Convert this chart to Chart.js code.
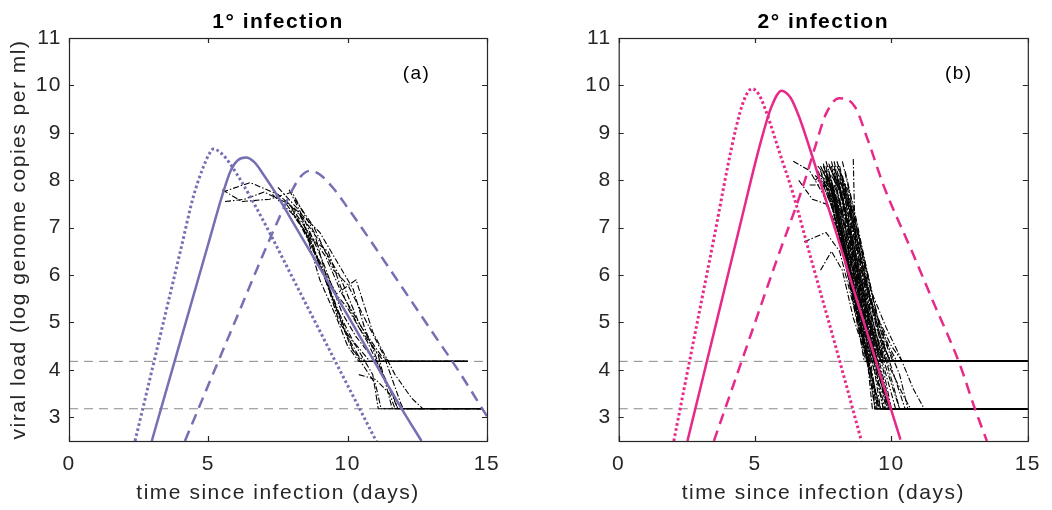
<!DOCTYPE html>
<html>
<head>
<meta charset="utf-8">
<script src="https://cdn.jsdelivr.net/npm/chart.js@4"></script>
<style>
  html, body { margin: 0; padding: 0; background: #fff; }
  #wrap { position: relative; width: 1052px; height: 510px; }
  canvas { position: absolute; top: 0; }
</style>
</head>
<body>
<div id="wrap">
  <canvas id="primary" width="526" height="510" style="left:0"></canvas>
  <canvas id="secondary" width="526" height="510" style="left:526px"></canvas>
</div>
<script>
// axes
const xTicks = [0, 5, 10, 15];
const yTicks = [3, 4, 5, 6, 7, 8, 9, 10, 11];
const detectHigh = 4.18;
const detectLow = 3.18;

// model curves, 1° infection (purple)
const pSolidX  = [2.97, 4.0, 5.0, 5.5, 5.8, 6.05, 6.35, 6.65, 7.0, 7.5, 8.0, 9.0, 10.0, 11.0, 12.0, 12.65];
const pSolidY  = [2.5, 4.61, 6.66, 7.68, 8.2, 8.42, 8.48, 8.38, 8.1, 7.65, 7.15, 6.15, 5.15, 4.13, 3.12, 2.5];
const pDotX    = [2.37, 3.0, 3.5, 4.0, 4.46, 4.82, 5.0, 5.18, 5.5, 5.8, 6.2, 6.6, 7.21, 8.0, 9.0, 10.0, 11.04];
const pDotY    = [2.5, 4.05, 5.28, 6.51, 7.65, 8.28, 8.52, 8.66, 8.55, 8.33, 7.96, 7.55, 6.88, 5.97, 4.82, 3.67, 2.48];
const pDashX   = [4.16, 5.0, 6.0, 7.0, 7.5, 8.0, 8.3, 8.65, 9.0, 9.5, 10.0, 11.0, 12.0, 13.0, 14.0, 15.0];
const pDashY   = [2.5, 3.68, 5.08, 6.48, 7.15, 7.78, 8.07, 8.2, 8.12, 7.82, 7.42, 6.57, 5.7, 4.83, 3.96, 3.02];

// model curves, 2° infection (pink)
const sSolidX  = [2.52, 3.0, 4.0, 4.5, 5.0, 5.3, 5.6, 5.97, 6.3, 6.6, 7.0, 7.5, 8.0, 8.6, 9.3, 10.0, 10.33];
const sSolidY  = [2.5, 3.63, 5.99, 7.17, 8.35, 9.0, 9.55, 9.89, 9.74, 9.36, 8.68, 7.76, 6.85, 5.72, 4.43, 3.14, 2.53];
const sDotX    = [2.02, 2.5, 3.0, 3.5, 4.0, 4.3, 4.6, 4.89, 5.15, 5.43, 5.9, 6.39, 7.0, 8.0, 8.9];
const sDotY    = [2.5, 3.9, 5.35, 6.8, 8.3, 9.1, 9.7, 9.93, 9.8, 9.41, 8.58, 7.72, 6.45, 4.4, 2.5];
const sDashX   = [3.49, 4.5, 5.79, 6.75, 7.2, 7.6, 8.08, 8.66, 9.14, 9.73, 10.75, 11.5, 12.49, 13.08, 13.5];
const sDashY   = [2.5, 4.17, 6.31, 7.86, 8.7, 9.4, 9.73, 9.55, 8.84, 7.86, 6.5, 5.48, 4.14, 3.15, 2.5];

// measured viral loads, one list per person: day, log load, day, log load, ...
const primaryCases = [
  [5.5,7.75, 6.5,7.95, 7.5,7.7, 8.3,7.3, 9.0,6.2, 9.6,5.3, 10.2,4.6, 10.8,4.18, 14.3,4.18],
  [5.6,7.55, 6.3,7.6, 7.0,7.75, 7.9,7.5, 8.6,6.9, 9.2,5.9, 9.9,4.8, 10.5,4.18, 14.3,4.18],
  [5.5,7.8, 6.2,7.55, 7.2,7.6, 8.0,7.75, 8.8,6.9, 9.4,5.6, 10.1,4.5, 11.0,3.7, 11.2,3.18, 14.8,3.18],
  [7.5,7.85, 8.2,7.4, 8.8,6.5, 9.5,5.5, 10.2,4.4, 10.6,4.18, 14.3,4.18],
  [7.9,7.8, 8.5,7.1, 9.1,6.3, 9.8,5.2, 10.3,4.7, 11.0,4.18, 14.3,4.18],
  [7.7,7.6, 8.4,7.2, 9.0,6.7, 9.7,6.0, 10.4,5.0, 11.1,4.3, 11.6,3.18, 14.8,3.18],
  [8.0,7.4, 8.7,6.6, 9.3,5.8, 10.0,5.3, 10.7,4.6, 11.5,3.6, 11.8,3.18, 14.8,3.18],
  [7.3,7.7, 8.0,7.3, 8.6,6.8, 9.3,6.5, 9.9,5.5, 10.4,4.9, 11.0,4.4, 11.3,4.18, 14.3,4.18],
  [8.2,7.2, 8.9,6.4, 9.6,5.6, 10.3,5.9, 10.9,4.8, 11.7,3.9, 12.3,3.4, 12.7,3.18, 14.8,3.18],
  [8.4,7.0, 9.1,6.1, 9.7,5.0, 10.3,4.5, 10.9,3.9, 11.1,3.18, 14.8,3.18],
  [8.6,6.9, 9.2,6.4, 9.8,5.6, 10.5,4.9, 11.2,4.3, 11.5,4.18, 14.3,4.18],
  [8.1,7.6, 8.8,7.0, 9.5,6.1, 10.0,5.8, 10.6,5.1, 11.3,4.3, 11.9,3.3, 12.0,3.18, 14.8,3.18],
  [7.8,7.5, 8.5,6.9, 9.0,5.9, 9.6,5.1, 10.0,4.5, 10.4,4.18, 14.3,4.18],
  [8.3,7.3, 9.0,6.9, 9.6,6.3, 10.2,5.7, 10.6,4.9, 11.2,4.0, 11.6,3.5, 11.8,3.18, 14.8,3.18],
  [10.4,3.9, 11.0,3.8, 11.5,3.5, 11.7,3.18]
];

const secondaryCases = [
  [7.3,8.3, 7.7,8.0, 8.1,7.0, 8.5,6.0, 8.9,5.0, 9.2,4.18, 15,4.18],
  [7.5,8.35, 7.9,7.6, 8.3,6.6, 8.7,5.5, 9.1,4.6, 9.4,3.9, 9.6,3.18, 15,3.18],
  [7.6,8.4, 8.0,7.6, 8.4,6.5, 8.8,5.4, 9.2,4.5, 9.35,4.18, 15,4.18],
  [7.7,8.2, 8.1,7.3, 8.5,6.3, 8.9,5.2, 9.3,4.3, 9.6,3.6, 9.75,3.18, 15,3.18],
  [7.4,8.1, 7.8,7.9, 8.2,6.9, 8.6,5.8, 9.0,4.8, 9.3,4.18, 15,4.18],
  [7.8,8.3, 8.2,7.2, 8.6,6.1, 9.0,5.0, 9.4,4.1, 9.8,3.4, 9.95,3.18, 15,3.18],
  [7.6,8.2, 8.0,7.5, 8.4,6.6, 8.8,5.6, 9.2,4.7, 9.5,4.18, 15,4.18],
  [7.9,8.4, 8.3,7.3, 8.7,6.2, 9.1,5.1, 9.5,4.1, 9.9,3.18, 15,3.18],
  [8.0,8.2, 8.4,7.5, 8.8,6.4, 9.2,5.3, 9.6,4.4, 9.75,4.18, 15,4.18],
  [7.2,8.0, 7.6,8.2, 8.0,7.4, 8.4,6.4, 8.8,5.3, 9.2,4.4, 9.5,3.7, 9.7,3.18, 15,3.18],
  [8.1,8.3, 8.5,7.2, 8.9,6.0, 9.3,4.9, 9.7,4.0, 10.0,3.18, 15,3.18],
  [7.5,8.0, 7.9,7.8, 8.3,7.0, 8.7,5.9, 9.1,4.9, 9.45,4.18, 15,4.18],
  [8.2,8.0, 8.6,7.0, 9.0,5.8, 9.4,4.8, 9.8,4.18, 15,4.18],
  [7.7,8.0, 8.1,7.1, 8.4,6.3, 8.7,5.5, 9.0,4.6, 9.2,3.9, 9.4,3.18, 15,3.18],
  [7.8,8.1, 8.2,7.7, 8.6,6.7, 9.0,5.6, 9.4,4.6, 9.7,4.18, 15,4.18],
  [7.4,8.2, 7.8,7.5, 8.2,6.5, 8.6,5.5, 9.0,4.6, 9.3,3.8, 9.45,3.18, 15,3.18],
  [8.3,7.9, 8.7,7.0, 9.1,6.0, 9.5,5.1, 9.9,4.5, 10.2,4.18, 15,4.18],
  [8.0,7.8, 8.4,6.8, 8.8,5.7, 9.2,4.6, 9.5,3.8, 9.7,3.18, 15,3.18],
  [7.9,8.0, 8.3,7.6, 8.7,6.6, 9.1,5.7, 9.5,5.0, 9.9,4.4, 10.05,4.18, 15,4.18],
  [8.1,7.6, 8.5,6.6, 8.9,5.4, 9.2,4.18, 15,4.18],
  [7.6,7.9, 8.0,7.1, 8.4,6.1, 8.8,5.0, 9.1,4.2, 9.4,3.6, 9.55,3.18, 15,3.18],
  [8.2,8.4, 8.6,7.4, 9.0,6.3, 9.4,5.3, 9.8,4.4, 10.2,3.7, 10.5,3.18, 15,3.18],
  [8.4,7.7, 8.8,6.6, 9.2,5.5, 9.6,4.7, 9.95,4.18, 15,4.18],
  [7.3,8.2, 7.7,7.7, 8.1,6.8, 8.5,5.8, 8.9,4.9, 9.2,4.1, 9.45,3.5, 9.6,3.18, 15,3.18],
  [8.0,8.1, 8.4,7.1, 8.8,6.0, 9.2,5.1, 9.6,4.4, 10.0,3.7, 10.3,3.18, 15,3.18],
  [8.6,8.45, 8.65,7.2, 8.7,6.0, 9.1,5.2, 9.5,4.5, 9.8,4.18, 15,4.18],
  [6.4,8.4, 7.0,8.2, 7.5,7.7, 8.0,7.0, 8.4,6.1, 8.8,5.1, 9.2,4.18, 15,4.18],
  [6.8,6.7, 7.6,6.9, 8.1,6.5, 8.5,5.6, 8.9,4.7, 9.2,3.9, 9.4,3.18, 15,3.18],
  [7.4,6.1, 7.8,6.5, 8.2,6.1, 8.6,5.1, 9.0,4.4, 9.2,4.18, 15,4.18],
  [6.6,8.0, 7.1,7.6, 7.6,7.5, 8.0,7.0, 8.4,6.2, 8.8,5.2, 9.2,4.1, 9.55,3.18, 15,3.18],
  [7.0,7.9, 7.5,7.9, 7.9,7.3, 8.3,6.3, 8.7,5.2, 9.1,4.18, 15,4.18],
  [8.3,8.2, 8.7,7.2, 9.1,6.1, 9.5,5.1, 10.0,4.5, 10.4,4.18, 15,4.18],
  [8.5,7.5, 8.9,6.6, 9.3,5.6, 9.8,4.9, 10.3,4.3, 10.8,3.6, 11.2,3.18, 15,3.18],
  [7.7,8.3, 8.1,7.9, 8.5,6.8, 8.9,5.7, 9.3,4.8, 9.6,4.18, 15,4.18],
  [7.9,8.25, 8.3,7.6, 8.7,6.4, 9.1,5.2, 9.5,4.2, 9.8,3.5, 9.95,3.18, 15,3.18],
  [8.1,8.1, 8.5,7.3, 8.9,6.3, 9.3,5.4, 9.8,4.6, 10.3,3.9, 10.6,3.18, 15,3.18],
  [7.6,8.3, 8.0,7.3, 8.4,6.2, 8.8,5.1, 9.1,4.3, 9.3,3.18, 15,3.18],
  [7.8,8.0, 8.2,6.9, 8.6,5.7, 9.0,4.6, 9.25,3.9, 9.4,3.18, 15,3.18],
  [8.0,8.3, 8.4,7.8, 8.8,6.8, 9.2,5.6, 9.6,4.7, 9.95,4.18, 15,4.18],
  [7.5,8.2, 7.9,7.5, 8.3,6.4, 8.7,5.2, 9.0,4.18, 15,4.18],
  [7.2,8.1, 7.6,7.9, 8.0,7.2, 8.4,6.1, 8.8,5.0, 9.1,4.3, 9.2,4.18, 15,4.18],
  [7.8,8.4, 8.2,7.5, 8.6,6.4, 9.0,5.3, 9.4,4.4, 9.7,3.7, 9.85,3.18, 15,3.18],
  [8.0,8.0, 8.4,7.1, 8.8,6.2, 9.2,5.0, 9.6,4.18, 15,4.18],
  [7.7,8.1, 8.1,7.4, 8.5,6.6, 8.9,5.5, 9.3,4.5, 9.6,3.8, 9.8,3.18, 15,3.18],
  [7.9,8.3, 8.3,7.4, 8.7,6.2, 9.1,5.0, 9.45,4.18, 15,4.18],
  [7.5,8.3, 7.9,7.7, 8.3,6.8, 8.7,5.8, 9.1,4.8, 9.5,4.0, 9.8,3.4, 9.9,3.18, 15,3.18],
  [8.1,8.2, 8.5,7.0, 8.9,5.9, 9.3,5.0, 9.7,4.3, 9.8,4.18, 15,4.18],
  [7.6,8.1, 8.0,7.4, 8.4,6.4, 8.8,5.3, 9.2,4.3, 9.5,3.18, 15,3.18],
  [7.3,8.0, 7.7,7.8, 8.1,7.1, 8.5,6.1, 8.9,5.1, 9.3,4.3, 9.4,4.18, 15,4.18],
  [8.2,8.1, 8.6,7.1, 9.0,6.0, 9.4,5.0, 9.8,4.2, 10.1,3.6, 10.3,3.18, 15,3.18],
  [7.8,8.2, 8.2,7.6, 8.6,6.5, 9.0,5.4, 9.4,4.5, 9.65,4.18, 15,4.18],
  [7.4,8.3, 7.8,7.8, 8.2,6.7, 8.6,5.6, 9.0,4.5, 9.3,3.8, 9.5,3.18, 15,3.18],
  [8.0,8.4, 8.4,7.7, 8.8,6.6, 9.2,5.5, 9.6,4.6, 10.0,4.18, 15,4.18],
  [7.9,8.1, 8.3,7.0, 8.7,5.9, 9.1,4.9, 9.4,4.2, 9.7,3.5, 9.85,3.18, 15,3.18],
  [7.6,8.0, 8.0,7.2, 8.4,6.3, 8.8,5.4, 9.2,4.6, 9.5,4.18, 15,4.18],
  [8.3,7.8, 8.7,6.9, 9.1,5.8, 9.5,4.9, 9.9,4.1, 10.4,3.5, 10.7,3.18, 15,3.18],
  [7.7,8.35, 8.1,7.8, 8.5,6.9, 8.9,5.8, 9.3,4.8, 9.7,4.18, 15,4.18],
  [8.1,8.0, 8.5,7.3, 8.9,6.2, 9.3,5.1, 9.7,4.1, 10.0,3.5, 10.15,3.18, 15,3.18],
  [7.5,7.9, 7.9,7.3, 8.3,6.3, 8.7,5.1, 9.0,4.3, 9.1,4.18, 15,4.18],
  [7.9,7.9, 8.3,7.2, 8.7,6.1, 9.1,5.1, 9.5,4.3, 9.8,3.6, 9.95,3.18, 15,3.18]
];

const panelTagX = 12.47;
const panelTagY = 10.25;

const purple = "#7570b3";
const pink = "#e7298a";
const axisColor = "#262626";
const fontFamily = '"Liberation Sans", Arial, Helvetica, sans-serif';
const letterGap = "1.5px";

function zip(xs, ys) { return xs.map((x, i) => ({ x, y: ys[i] })); }
function fromFlat(arr) {
  const out = [];
  for (let i = 0; i < arr.length; i += 2) out.push({ x: arr[i], y: arr[i + 1] });
  return out;
}

function modelSet(xs, ys, color, style) {
  const dash = style === "dash" ? [11, 7] : style === "dot" ? [2.6, 2.6] : [];
  return {
    data: zip(xs, ys),
    borderColor: color,
    borderWidth: style === "dot" ? 3 : 2.5,
    borderDash: dash,
    cubicInterpolationMode: "monotone",
    pointRadius: 0,
    clip: 0
  };
}

function limitSet(level) {
  return {
    data: [{ x: 0, y: level }, { x: 15, y: level }],
    borderColor: "#8a8a8a",
    borderWidth: 1,
    borderDash: [9, 6],
    pointRadius: 0,
    clip: 0
  };
}

function caseSet(arr) {
  return {
    data: fromFlat(arr),
    borderColor: "#000",
    borderWidth: 1.1,
    borderDash: [6, 2, 1.5, 2],
    tension: 0,
    pointRadius: 0,
    clip: 0
  };
}

// wider text, like the exported figure
const spacing = {
  id: "spacing",
  beforeUpdate(chart) { chart.ctx.letterSpacing = letterGap; },
  beforeDraw(chart) { chart.ctx.letterSpacing = letterGap; }
};

const frame = {
  id: "frame",
  afterDatasetsDraw(chart, args, opts) {
    const { ctx, chartArea: a, scales: { x, y } } = chart;
    ctx.save();
    ctx.strokeStyle = axisColor;
    ctx.lineWidth = 1.2;
    ctx.strokeRect(a.left + 0.5, a.top + 0.5, a.width, a.height);
    ctx.beginPath();
    xTicks.forEach(v => {
      const px = Math.round(x.getPixelForValue(v)) + 0.5;
      ctx.moveTo(px, a.bottom); ctx.lineTo(px, a.bottom - 5);
      ctx.moveTo(px, a.top); ctx.lineTo(px, a.top + 5);
    });
    yTicks.forEach(v => {
      const py = Math.round(y.getPixelForValue(v)) + 0.5;
      ctx.moveTo(a.left, py); ctx.lineTo(a.left + 5, py);
      ctx.moveTo(a.right, py); ctx.lineTo(a.right - 5, py);
    });
    ctx.stroke();
    ctx.fillStyle = "#000";
    ctx.font = "19px " + fontFamily;
    ctx.textAlign = "center";
    ctx.textBaseline = "middle";
    ctx.fillText(opts.tag, x.getPixelForValue(panelTagX), y.getPixelForValue(panelTagY));
    ctx.restore();
  }
};

function buildPanel(canvasId, cfg) {
  return new Chart(document.getElementById(canvasId), {
    type: "line",
    data: {
      datasets: [
        modelSet(cfg.solid[0], cfg.solid[1], cfg.color, "solid"),
        modelSet(cfg.dot[0], cfg.dot[1], cfg.color, "dot"),
        modelSet(cfg.dash[0], cfg.dash[1], cfg.color, "dash"),
        ...cfg.cases.map(caseSet),
        limitSet(detectHigh),
        limitSet(detectLow)
      ]
    },
    options: {
      responsive: false,
      animation: false,
      devicePixelRatio: 1,
      layout: { padding: { left: 0, right: cfg.padRight, top: 0, bottom: 0 } },
      plugins: {
        legend: { display: false },
        tooltip: { enabled: false },
        title: {
          display: true,
          text: cfg.title,
          fullSize: false,
          color: "#000",
          font: { family: fontFamily, size: 21, weight: "bold", lineHeight: 1.2 },
          padding: { top: 10, bottom: 2.8 }
        },
        frame: { tag: cfg.tag }
      },
      scales: {
        x: {
          type: "linear",
          min: 0,
          max: 15,
          grid: { display: false, drawTicks: false },
          border: { display: false },
          afterBuildTicks: s => { s.ticks = xTicks.map(v => ({ value: v })); },
          afterFit: s => { s.height = 69; },
          ticks: { color: axisColor, padding: 11, font: { family: fontFamily, size: 21 } },
          title: {
            display: true,
            text: "time since infection (days)",
            color: axisColor,
            font: { family: fontFamily, size: 21 },
            padding: { top: 0, bottom: 4.4 }
          }
        },
        y: {
          type: "linear",
          min: 2.5,
          max: 11,
          grid: { display: false, drawTicks: false },
          border: { display: false },
          afterBuildTicks: s => { s.ticks = yTicks.map(v => ({ value: v })); },
          afterFit: s => { s.width = cfg.yWidth; },
          ticks: { color: axisColor, padding: 7, font: { family: fontFamily, size: 21 } },
          title: {
            display: cfg.yTitle,
            text: "viral load (log genome copies per ml)",
            color: axisColor,
            font: { family: fontFamily, size: 21 },
            padding: { top: 7, bottom: 0 }
          }
        }
      }
    },
    plugins: [spacing, frame]
  });
}

buildPanel("primary", {
  title: "1° infection",
  tag: "(a)",
  color: purple,
  solid: [pSolidX, pSolidY],
  dot: [pDotX, pDotY],
  dash: [pDashX, pDashY],
  cases: primaryCases,
  yWidth: 69,
  yTitle: true,
  padRight: 39
});

buildPanel("secondary", {
  title: "2° infection",
  tag: "(b)",
  color: pink,
  solid: [sSolidX, sSolidY],
  dot: [sDotX, sDotY],
  dash: [sDashX, sDashY],
  cases: secondaryCases,
  yWidth: 92.7,
  yTitle: false,
  padRight: 15.3
});
</script>
</body>
</html>
